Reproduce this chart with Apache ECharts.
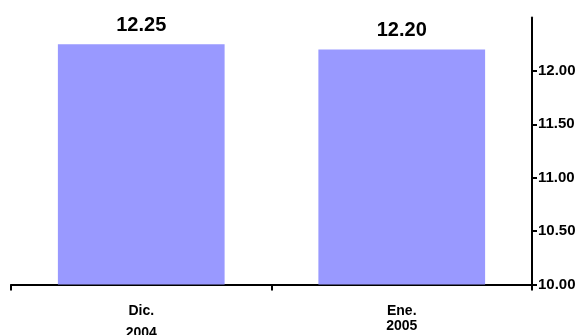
<!DOCTYPE html>
<html>
<head>
<meta charset="utf-8">
<script src="https://cdn.jsdelivr.net/npm/echarts@6/dist/echarts.min.js"></script>
<style>
  html, body { margin: 0; padding: 0; background: #ffffff; }
  #chart { width: 588px; height: 335px; }
</style>
</head>
<body>
<div id="chart"></div>
<script>
// Tasa (%) por mes
const months = ['Dic.', 'Ene.'];
const years = ['2004', '2005'];
const rates = [12.25, 12.20];
const yTicks = [10.00, 10.50, 11.00, 11.50, 12.00];

const chart = echarts.init(document.getElementById('chart'));

const font = 'Liberation Sans, Arial, sans-serif';

chart.setOption({
  animation: false,
  grid: { left: 11, right: 56, top: 17.5, bottom: 50.5, containLabel: false, outerBoundsMode: 'none' },
  xAxis: {
    type: 'category',
    data: months.map((m, i) => m + '\n' + years[i]),
    boundaryGap: true,
    axisLine: { lineStyle: { color: '#000', width: 2 } },
    axisTick: { show: true, inside: false, alignWithLabel: false, length: 6, lineStyle: { color: '#000', width: 2 } },
    axisLabel: {
      margin: 19,
      formatter: (v, i) => {
        const parts = v.split('\n');
        return '{m|' + parts[0] + '}\n{y' + i + '|' + parts[1] + '}';
      },
      rich: {
        m: { fontFamily: font, fontWeight: 'bold', fontSize: 14, color: '#000', lineHeight: 16 },
        y0: { fontFamily: font, fontWeight: 'bold', fontSize: 14, color: '#000', lineHeight: 28 },
        y1: { fontFamily: font, fontWeight: 'bold', fontSize: 14, color: '#000', lineHeight: 14 }
      }
    }
  },
  yAxis: {
    type: 'value',
    position: 'right',
    min: yTicks[0],
    max: 12.5,
    interval: 0.5,
    splitLine: { show: false },
    axisLine: { show: true, lineStyle: { color: '#000', width: 2 } },
    axisTick: { show: true, inside: false, length: 5, lineStyle: { color: '#000', width: 2 } },
    axisLabel: {
      margin: 6,
      showMaxLabel: false,
      color: '#000',
      fontFamily: font,
      fontWeight: 'bold',
      fontSize: 15,
      formatter: v => v.toFixed(2)
    }
  },
  series: [{
    type: 'bar',
    data: rates,
    barWidth: '64%',
    itemStyle: { color: '#9999ff' },
    label: {
      show: true,
      position: 'top',
      distance: 9,
      color: '#000',
      fontFamily: font,
      fontWeight: 'bold',
      fontSize: 20,
      formatter: p => p.value.toFixed(2)
    }
  }]
});
</script>
</body>
</html>
